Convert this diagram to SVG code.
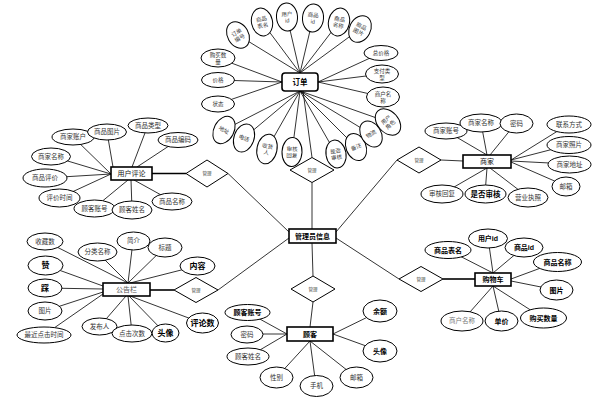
<svg xmlns="http://www.w3.org/2000/svg" width="607" height="415" viewBox="0 0 607 415">
<style>
.e{fill:#fff;stroke:#000;stroke-width:1}
.b{fill:#fff;stroke:#000;stroke-width:1.6}
.d{fill:#fff;stroke:#000;stroke-width:1}
.c line{stroke:#000;stroke-width:0.8}
.c .k{stroke-width:1.6}
text{font-family:"Liberation Sans","Noto Sans CJK SC",sans-serif;font-size:6.5px;text-anchor:middle;fill:#333}
.s{font-size:5.5px}
.bd{font-weight:bold;fill:#000;font-size:7.5px}
.bx{font-size:7px;fill:#111}
.dl{font-size:4.5px;fill:#444}
.g{fill:#777}
</style>
<rect width="607" height="415" fill="#fff"/>
<g id="connectors" class="c">
<!-- order -->
<line x1="300" y1="73" x2="238" y2="35"/><line x1="300" y1="73" x2="262" y2="22"/><line x1="300" y1="73" x2="287" y2="17"/>
<line x1="300" y1="73" x2="313" y2="18"/><line x1="300" y1="73" x2="339" y2="22"/><line x1="300" y1="73" x2="360" y2="29"/>
<line x1="318" y1="82" x2="381" y2="53"/><line x1="318" y1="82" x2="382" y2="74"/><line x1="318" y1="82" x2="383" y2="97"/>
<line x1="282" y1="82" x2="218" y2="58"/><line x1="282" y1="82" x2="218" y2="80"/><line x1="282" y1="82" x2="218" y2="104"/>
<line x1="300" y1="91" x2="224" y2="130"/><line x1="300" y1="91" x2="244" y2="138"/><line x1="300" y1="91" x2="267" y2="149"/>
<line x1="300" y1="91" x2="292" y2="152"/><line x1="300" y1="91" x2="336" y2="154"/><line x1="300" y1="91" x2="356" y2="147"/>
<line x1="300" y1="91" x2="371" y2="134"/><line x1="300" y1="91" x2="388" y2="122"/>
<line x1="303" y1="91" x2="312" y2="157.5"/><line x1="312" y1="182.5" x2="312" y2="229"/>
<!-- review -->
<line x1="111" y1="174" x2="73" y2="137"/><line x1="113" y1="167" x2="107" y2="132"/><line x1="111" y1="174" x2="51" y2="156"/>
<line x1="111" y1="174" x2="45" y2="178"/><line x1="111" y1="174" x2="59" y2="198"/>
<line x1="132" y1="167" x2="148" y2="125"/><line x1="137" y1="167" x2="178" y2="140"/>
<line x1="128" y1="180" x2="94" y2="208"/><line x1="131" y1="180" x2="132" y2="210"/><line x1="134" y1="180" x2="172" y2="201"/>
<line class="k" x1="152" y1="173.5" x2="186" y2="173.5"/><line x1="228" y1="173.5" x2="289" y2="232"/>
<!-- merchant -->
<line x1="487" y1="155" x2="446" y2="131"/><line x1="487" y1="155" x2="481" y2="123"/><line x1="490" y1="155" x2="516" y2="123"/>
<line x1="511" y1="160" x2="569" y2="124"/><line x1="511" y1="160" x2="569" y2="145"/><line x1="511" y1="161" x2="569" y2="164"/><line x1="511" y1="162" x2="566" y2="186"/>
<line x1="487" y1="168" x2="442" y2="194"/><line x1="487" y1="168" x2="485" y2="194"/><line x1="490" y1="168" x2="528" y2="197"/>
<line x1="441" y1="160" x2="463" y2="161"/><line x1="336" y1="232" x2="397" y2="160"/>
<!-- bulletin -->
<line x1="128" y1="283" x2="45" y2="241"/><line x1="128" y1="283" x2="97" y2="252"/><line x1="128" y1="283" x2="133" y2="241"/>
<line x1="128" y1="283" x2="165" y2="247"/><line x1="130" y1="283" x2="197" y2="266"/>
<line x1="103" y1="286" x2="45" y2="265"/><line x1="103" y1="289" x2="45" y2="288"/><line x1="103" y1="292" x2="45" y2="311"/><line x1="103" y1="294" x2="44" y2="335"/>
<line x1="126" y1="296" x2="100" y2="326"/><line x1="128" y1="296" x2="132" y2="333"/><line x1="129" y1="296" x2="165" y2="333"/><line x1="130" y1="296" x2="202" y2="323"/>
<line class="k" x1="150" y1="290" x2="174" y2="290"/><line x1="218" y1="290" x2="289" y2="238"/>
<!-- customer -->
<line x1="312" y1="243" x2="313" y2="276"/><line x1="313" y1="302" x2="310" y2="327"/>
<line x1="287" y1="334" x2="247" y2="312"/><line x1="287" y1="334" x2="247" y2="334"/><line x1="287" y1="334" x2="248" y2="357"/>
<line x1="310" y1="341" x2="276" y2="378"/><line x1="310" y1="341" x2="316" y2="386"/><line x1="310" y1="341" x2="357" y2="378"/>
<line x1="333" y1="334" x2="380" y2="311"/><line x1="333" y1="334" x2="380" y2="351"/>
<!-- cart -->
<line x1="336" y1="238" x2="399" y2="279"/><line class="k" x1="443" y1="279" x2="475" y2="279"/>
<line x1="493" y1="273" x2="448" y2="250"/><line x1="493" y1="273" x2="488" y2="238"/><line x1="493" y1="273" x2="524" y2="247"/>
<line x1="511" y1="279" x2="557" y2="262"/><line x1="511" y1="281" x2="556" y2="290"/>
<line x1="493" y1="286" x2="462" y2="321"/><line x1="493" y1="286" x2="501" y2="321"/><line x1="493" y1="286" x2="543" y2="318"/>
</g>

<!-- Order -->
<g id="order">
<rect class="b" x="282" y="73" width="36" height="18" rx="3"/><text class="bd" x="300" y="85">订单</text>
</g>
<g id="o-ddbh" transform="translate(238,35) rotate(-30)"><ellipse class="e" rx="10.5" ry="14"/><text class="s" y="-1">订单</text><text class="s" y="5.5">编号</text></g>
<g id="o-spbm" transform="translate(262,22) rotate(-12)"><ellipse class="e" rx="10.5" ry="14"/><text class="s" y="-1">商品</text><text class="s" y="5.5">表名</text></g>
<g id="o-yhid" transform="translate(287,17) rotate(-4)"><ellipse class="e" rx="10.5" ry="14"/><text class="s" y="-1">用户</text><text class="s" y="5.5">id</text></g>
<g id="o-spid" transform="translate(313,18) rotate(4)"><ellipse class="e" rx="10.5" ry="14"/><text class="s" y="-1">商品</text><text class="s" y="5.5">id</text></g>
<g id="o-spmc" transform="translate(339,22) rotate(12)"><ellipse class="e" rx="10.5" ry="14"/><text class="s" y="-1">商品</text><text class="s" y="5.5">名称</text></g>
<g id="o-sptp" transform="translate(360,29) rotate(28)"><ellipse class="e" rx="10.5" ry="14"/><text class="s" y="-1">商品</text><text class="s" y="5.5">图片</text></g>
<g id="o-zjg"><ellipse class="e" cx="381" cy="53" rx="17" ry="7.5"/><text class="s" x="381" y="55">总价格</text></g>
<g id="o-zflx"><ellipse class="e" cx="382" cy="74" rx="16.5" ry="9"/><text class="s" x="382" y="73">支付类</text><text class="s" x="382" y="79.5">型</text></g>
<g id="o-shmc"><ellipse class="e" cx="383" cy="97" rx="16.5" ry="10"/><text class="s" x="383" y="96">商户名</text><text class="s" x="383" y="102.5">称</text></g>
<g id="o-gmsl"><ellipse class="e" cx="218" cy="58" rx="17" ry="9"/><text class="s" x="218" y="57">购买数</text><text class="s" x="218" y="63.5">量</text></g>
<g id="o-jg"><ellipse class="e" cx="218" cy="80" rx="16.5" ry="7.5"/><text class="s" x="218" y="82">价格</text></g>
<g id="o-zt"><ellipse class="e" cx="218" cy="104" rx="16.5" ry="8"/><text class="s" x="218" y="106">状态</text></g>
<g id="o-dz" transform="translate(224,130) rotate(28)"><ellipse class="e" rx="10" ry="14.5"/><text class="s" y="2">地址</text></g>
<g id="o-dh" transform="translate(244,138) rotate(20)"><ellipse class="e" rx="10" ry="14.5"/><text class="s" y="2">电话</text></g>
<g id="o-shr" transform="translate(267,149) rotate(12)"><ellipse class="e" rx="10" ry="15"/><text class="s" y="-1">收货</text><text class="s" y="5.5">人</text></g>
<g id="o-shhf" transform="translate(292,152) rotate(3)"><ellipse class="e" rx="10" ry="14.5"/><text class="s" y="-1">审核</text><text class="s" y="5.5">回复</text></g>
<g id="o-sfsh" transform="translate(336,154) rotate(-10)"><ellipse class="e" rx="10" ry="14"/><text class="s" y="-1">是否</text><text class="s" y="5.5">审核</text></g>
<g id="o-bz" transform="translate(356,147) rotate(-22)"><ellipse class="e" rx="10" ry="14"/><text class="s" y="2">备注</text></g>
<g id="o-wl" transform="translate(371,134) rotate(-32)"><ellipse class="e" rx="10" ry="14"/><text class="s" y="2">物流</text></g>
<g id="o-yhjs" transform="translate(388,122) rotate(-42)"><ellipse class="e" rx="10.5" ry="15"/><text class="s" y="-1">用户</text><text class="s" y="5.5">角色</text></g>
<g id="rel-order"><polygon class="d" points="312,157.5 334,170 312,182.5 290,170"/><text class="dl" x="312" y="171.6">管理</text></g>

<!-- Admin -->
<g id="admin"><rect class="b" x="289" y="229" width="47" height="14"/><text class="bd" x="312.5" y="238.8" style="font-size:7px">管理员信息</text></g>

<!-- Review -->
<g id="review"><rect class="b" x="111" y="167" width="41" height="13"/><text class="bx" x="131.5" y="176.2">用户评论</text></g>
<g id="r1"><ellipse class="e" cx="73" cy="137" rx="21" ry="8"/><text x="73" y="139.3">商家账户</text></g>
<g id="r2"><ellipse class="e" cx="107" cy="132" rx="19.5" ry="8"/><text x="107" y="134.3">商品图片</text></g>
<g id="r3"><ellipse class="e" cx="148" cy="125.5" rx="20" ry="7.5"/><text x="148" y="127.8">商品类型</text></g>
<g id="r4"><ellipse class="e" cx="178" cy="140" rx="20" ry="7.5"/><text x="178" y="142.3">商品编码</text></g>
<g id="r5"><ellipse class="e" cx="51" cy="156.5" rx="19.5" ry="8.5"/><text x="51" y="158.8">商家名称</text></g>
<g id="r6"><ellipse class="e" cx="45" cy="178" rx="22" ry="9"/><text x="45" y="180.3">商品评价</text></g>
<g id="r7"><ellipse class="e" cx="59.5" cy="198" rx="20.5" ry="9"/><text x="59.5" y="200.3">评价时间</text></g>
<g id="r8"><ellipse class="e" cx="94.5" cy="208.5" rx="20.5" ry="8.5"/><text x="94.5" y="210.8">顾客账号</text></g>
<g id="r9"><ellipse class="e" cx="132" cy="210" rx="20" ry="9"/><text x="132" y="212.3">顾客姓名</text></g>
<g id="r10"><ellipse class="e" cx="172" cy="201.5" rx="20" ry="8.5"/><text x="172" y="203.8">商品名称</text></g>
<g id="rel-review"><polygon class="d" points="207,160 228,173.5 207,187 186,173.5"/><text class="dl" x="207" y="175">管理</text></g>

<!-- Merchant -->
<g id="merchant"><rect class="b" x="463" y="155" width="48" height="13"/><text class="bx" x="487" y="164.2">商家</text></g>
<g id="m1"><ellipse class="e" cx="446" cy="131" rx="21" ry="8"/><text x="446" y="133.3">商家账号</text></g>
<g id="m2"><ellipse class="e" cx="481" cy="123" rx="21" ry="9"/><text x="481" y="125.3">商家名称</text></g>
<g id="m3"><ellipse class="e" cx="516.5" cy="123.5" rx="16.5" ry="9.5"/><text x="516.5" y="125.8">密码</text></g>
<g id="m4"><ellipse class="e" cx="569" cy="124.5" rx="22" ry="8.5"/><text x="569" y="126.8">联系方式</text></g>
<g id="m5"><ellipse class="e" cx="569" cy="145" rx="22" ry="8.5"/><text x="569" y="147.3">商家照片</text></g>
<g id="m6"><ellipse class="e" cx="569.5" cy="164.5" rx="21.5" ry="8.5"/><text x="569.5" y="166.8">商家地址</text></g>
<g id="m7"><ellipse class="e" cx="566" cy="186.5" rx="14" ry="9.5"/><text x="566" y="188.8">邮箱</text></g>
<g id="m8"><ellipse class="e" cx="442" cy="194" rx="21" ry="9"/><text x="442" y="196.3">审核回复</text></g>
<g id="m9"><ellipse class="e" cx="485.5" cy="194" rx="20.5" ry="9"/><text class="bd" x="485.5" y="196.7">是否审核</text></g>
<g id="m10"><ellipse class="e" cx="528" cy="197.5" rx="20" ry="9.5"/><text x="528" y="199.8">营业执照</text></g>
<g id="rel-merchant"><polygon class="d" points="419,147 441,160 419,173 397,160"/><text class="dl" x="419" y="161.6">管理</text></g>

<!-- Bulletin -->
<g id="bulletin"><rect class="b" x="103" y="283" width="47" height="13"/><text class="bx" x="126.5" y="292.2" style="fill:#555">公告栏</text></g>
<g id="b1"><ellipse class="e" cx="45" cy="241.5" rx="18" ry="8.5"/><text x="45" y="243.8">收藏数</text></g>
<g id="b2"><ellipse class="e" cx="45.5" cy="265.5" rx="17.5" ry="9.5"/><text class="bd" x="45.5" y="268.3" style="font-size:8px">赞</text></g>
<g id="b3"><ellipse class="e" cx="45" cy="288" rx="17" ry="9"/><text class="bd" x="45" y="290.8" style="font-size:8px">踩</text></g>
<g id="b4"><ellipse class="e" cx="45" cy="311" rx="17" ry="9"/><text x="45" y="313.3">图片</text></g>
<g id="b5"><ellipse class="e" cx="44" cy="335" rx="27" ry="8"/><text x="44" y="337.3">最近点击时间</text></g>
<g id="b6"><ellipse class="e" cx="97.5" cy="252" rx="19.5" ry="9"/><text x="97.5" y="254.3">分类名称</text></g>
<g id="b7"><ellipse class="e" cx="133.5" cy="241" rx="16.5" ry="9"/><text x="133.5" y="243.3">简介</text></g>
<g id="b8"><ellipse class="e" cx="165" cy="247.5" rx="17" ry="9.5"/><text x="165" y="249.8">标题</text></g>
<g id="b9"><ellipse class="e" cx="197.5" cy="266" rx="17.5" ry="9"/><text class="bd" x="197.5" y="268.8" style="font-size:8px">内容</text></g>
<g id="b10"><ellipse class="e" cx="99.5" cy="326.5" rx="17.5" ry="8.5"/><text x="99.5" y="328.8">发布人</text></g>
<g id="b11"><ellipse class="e" cx="132" cy="333.5" rx="20" ry="8.5"/><text x="132" y="335.8">点击次数</text></g>
<g id="b12"><ellipse class="e" cx="165.5" cy="333" rx="13.5" ry="9"/><text class="bd" x="165.5" y="335.8" style="font-size:8px">头像</text></g>
<g id="b13"><ellipse class="e" cx="202.5" cy="323" rx="16" ry="10"/><text class="bd" x="202.5" y="325.8" style="font-size:8px">评论数</text></g>
<g id="rel-bulletin"><polygon class="d" points="196,277.5 218,290 196,302.5 174,290"/><text class="dl" x="196" y="291.6">管理</text></g>

<!-- Customer -->
<g id="customer"><rect class="b" x="287" y="327" width="46" height="14"/><text class="bd" x="310" y="336.8" style="font-size:7px">顾客</text></g>
<g id="c1"><ellipse class="e" cx="247.5" cy="312.5" rx="22.5" ry="8"/><text class="bd" x="247.5" y="315.2" style="font-size:7px">顾客账号</text></g>
<g id="c2"><ellipse class="e" cx="247" cy="334.5" rx="16" ry="8.5"/><text x="247" y="336.8">密码</text></g>
<g id="c3"><ellipse class="e" cx="248" cy="356.5" rx="21" ry="8.5"/><text x="248" y="358.8">顾客姓名</text></g>
<g id="c4"><ellipse class="e" cx="276.5" cy="377.5" rx="16.5" ry="10.5"/><text x="276.5" y="379.8">性别</text></g>
<g id="c5"><ellipse class="e" cx="316.5" cy="386" rx="16.5" ry="10.5"/><text x="316.5" y="388.3">手机</text></g>
<g id="c6"><ellipse class="e" cx="356.5" cy="377.5" rx="16.5" ry="10.5"/><text x="356.5" y="379.8">邮箱</text></g>
<g id="c7"><ellipse class="e" cx="380" cy="311" rx="17" ry="11"/><text class="bd" x="380" y="313.8" style="font-size:7px">余额</text></g>
<g id="c8"><ellipse class="e" cx="380" cy="351" rx="17" ry="11"/><text class="bd" x="380" y="353.8" style="font-size:7px">头像</text></g>
<g id="rel-customer"><polygon class="d" points="313,276 335,289 313,302 291,289"/><text class="dl" x="313" y="290.6">管理</text></g>

<!-- Cart -->
<g id="cart"><rect class="b" x="475" y="273" width="36" height="13"/><text class="bd" x="493" y="282.4" style="font-size:7px">购物车</text></g>
<g id="k1"><ellipse class="e" cx="448" cy="250" rx="23" ry="8.5"/><text class="bd" x="448" y="252.6" style="font-size:7px">商品表名</text></g>
<g id="k2"><ellipse class="e" cx="488" cy="238.5" rx="19.5" ry="9.5"/><text class="bd" x="488" y="241.1" style="font-size:7px">用户id</text></g>
<g id="k3"><ellipse class="e" cx="524" cy="247.5" rx="19" ry="9.5"/><text class="bd" x="524" y="250.1" style="font-size:7px">商品id</text></g>
<g id="k4"><ellipse class="e" cx="557.5" cy="262" rx="24" ry="9.5"/><text class="bd" x="557.5" y="264.6" style="font-size:7px">商品名称</text></g>
<g id="k5"><ellipse class="e" cx="556.5" cy="290" rx="16.5" ry="10"/><text class="bd" x="556.5" y="292.6" style="font-size:7px">图片</text></g>
<g id="k6"><ellipse class="e" cx="462" cy="321" rx="21" ry="10"/><text class="g" x="462" y="323.3">商户名称</text></g>
<g id="k7"><ellipse class="e" cx="501.5" cy="321" rx="16.5" ry="10"/><text class="bd" x="501.5" y="323.6" style="font-size:7px">单价</text></g>
<g id="k8"><ellipse class="e" cx="543.5" cy="318" rx="23" ry="10"/><text class="bd" x="543.5" y="320.6" style="font-size:7px">购买数量</text></g>
<g id="rel-cart"><polygon class="d" points="421,266.5 443,279 421,291.5 399,279"/><text class="dl" x="421" y="280.6">管理</text></g>
</svg>
